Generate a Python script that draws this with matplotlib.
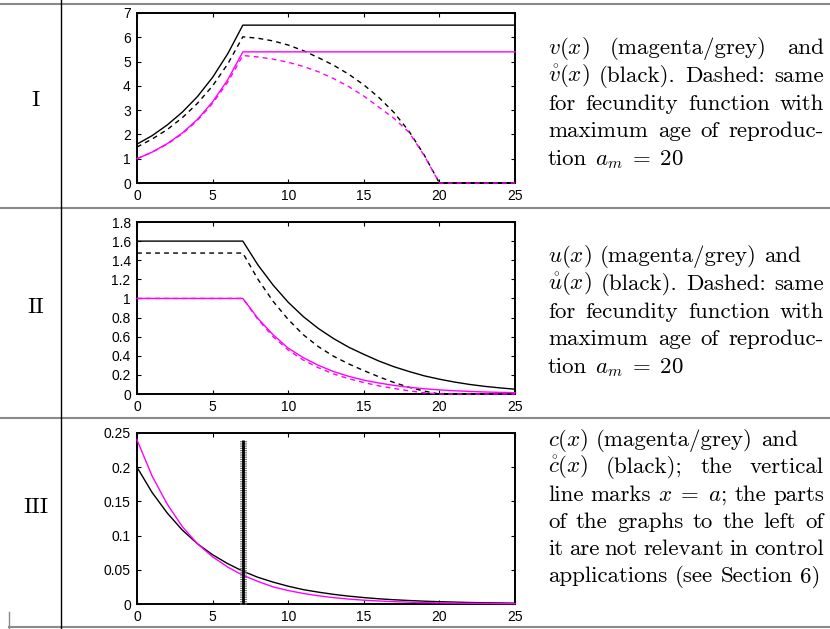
import matplotlib
matplotlib.use('Agg')
import matplotlib.pyplot as plt
from matplotlib.lines import Line2D
from matplotlib import mathtext

plt.rcParams['mathtext.fontset'] = 'cm'
plt.rcParams['axes.unicode_minus'] = False

# ---------------- data ----------------
x_ticks = [0, 5, 10, 15, 20, 25]
x_tick_labels = ['0', '5', '10', '15', '20', '25']

# Panel I
I_yticks = [0, 1, 2, 3, 4, 5, 6, 7]
I_ylabels = ['0', '1', '2', '3', '4', '5', '6', '7']
I_solid_x = [0, 1, 2, 3, 4, 5, 6, 7, 25]
I_black_solid = [1.6, 1.95, 2.39, 2.92, 3.56, 4.35, 5.32, 6.5, 6.5]
I_mag_solid = [1.0, 1.27, 1.62, 2.06, 2.62, 3.34, 4.25, 5.4, 5.4]
I_dash_x = [0, 1, 2, 3, 4, 5, 6, 7, 8, 9, 10, 11, 12, 13, 14, 15, 16, 17, 18, 19, 20, 25]
I_black_dash = [1.48, 1.81, 2.2, 2.69, 3.28, 4.0, 4.9, 6.02, 5.96, 5.85, 5.68, 5.45,
                5.16, 4.85, 4.48, 4.04, 3.52, 2.9, 2.12, 1.15, 0.0, 0.0]
I_mag_dash = [1.0, 1.27, 1.6, 2.03, 2.58, 3.28, 4.15, 5.25, 5.19, 5.1, 4.97, 4.8,
              4.58, 4.3, 3.97, 3.58, 3.12, 2.66, 2.08, 1.12, 0.0, 0.0]

# Panel II
II_yticks = [0, 0.2, 0.4, 0.6, 0.8, 1.0, 1.2, 1.4, 1.6, 1.8]
II_ylabels = ['0', '0.2', '0.4', '0.6', '0.8', '1', '1.2', '1.4', '1.6', '1.8']
II_solid_x = [0, 7, 8, 9, 10, 11, 12, 13, 14, 15, 16, 17, 18, 19, 20, 21, 22, 23, 24, 25]
II_black_solid = [1.6, 1.6, 1.35, 1.14, 0.96, 0.81, 0.685, 0.58, 0.49, 0.415, 0.345,
                  0.285, 0.235, 0.19, 0.155, 0.125, 0.1, 0.08, 0.064, 0.05]
II_mag_solid = [1.0, 1.0, 0.79, 0.62, 0.48, 0.38, 0.3, 0.235, 0.185, 0.145, 0.115,
                0.09, 0.07, 0.055, 0.043, 0.034, 0.027, 0.021, 0.017, 0.013]
II_dash_x = [0, 7, 8, 9, 10, 11, 12, 13, 14, 15, 16, 17, 18, 19, 20, 25]
II_black_dash = [1.475, 1.475, 1.2, 0.97, 0.78, 0.62, 0.495, 0.395, 0.315, 0.245,
                 0.18, 0.12, 0.07, 0.03, 0.0, 0.0]
II_mag_dash = [1.0, 1.0, 0.78, 0.6, 0.46, 0.355, 0.275, 0.21, 0.16, 0.12, 0.085,
               0.058, 0.033, 0.013, 0.0, 0.0]

# Panel III
III_yticks = [0, 0.05, 0.1, 0.15, 0.2, 0.25]
III_ylabels = ['0', '0.05', '0.1', '0.15', '0.2', '0.25']
III_x = list(range(0, 26))
III_black = [0.2, 0.163, 0.133, 0.108, 0.088, 0.072, 0.059, 0.048, 0.039, 0.032,
             0.026, 0.021, 0.0173, 0.0141, 0.0115, 0.0094, 0.0076, 0.0062, 0.0051,
             0.0041, 0.0034, 0.0028, 0.0022, 0.0018, 0.0015, 0.0012]
III_mag = [0.24, 0.187, 0.146, 0.113, 0.088, 0.069, 0.054, 0.042, 0.033, 0.025,
           0.0197, 0.0154, 0.012, 0.0093, 0.0072, 0.0056, 0.0044, 0.0034, 0.0027,
           0.0021, 0.0016, 0.0013, 0.001, 0.0008, 0.0006, 0.0005]
III_vline_x = 7.0
III_vline_y = [0.0, 0.24]

# text
def ring(ch):
    s = r'$\mathring{%s}(x)$' % ch
    try:
        mathtext.MathTextParser('path').parse(s)
        return s
    except Exception:
        return r'$\dot{%s}(x)$' % ch

row_labels = ['I', 'II', 'III']
text_I = [(['$v(x)$', '(magenta/grey)', 'and'], True),
          ([ring('v'), '(black).', 'Dashed:', 'same'], True),
          (['for', 'fecundity', 'function', 'with'], True),
          (['maximum', 'age', 'of', 'reproduc-'], True),
          (['tion', r'$a_m\;=\;20$'], False)]
text_II = [(['$u(x)$', '(magenta/grey)', 'and'], False),
           ([ring('u'), '(black).', 'Dashed:', 'same'], True),
           (['for', 'fecundity', 'function', 'with'], True),
           (['maximum', 'age', 'of', 'reproduc-'], True),
           (['tion', r'$a_m\;=\;20$'], False)]
text_III = [(['$c(x)$', '(magenta/grey)', 'and'], False),
            ([ring('c'), '(black);', 'the', 'vertical'], True),
            (['line', 'marks', r'$x\;=\;a$;', 'the', 'parts'], True),
            (['of', 'the', 'graphs', 'to', 'the', 'left', 'of'], True),
            (['it', 'are', 'not', 'relevant', 'in', 'control'], True),
            (['applications', '(see', 'Section', '6)'], False)]

# ---------------- figure ----------------
W, H = 830, 629
fig = plt.figure(figsize=(W / 100, H / 100), dpi=100)

def fx(x):
    return x / W

def fy(y):
    return 1 - y / H

GREY = '#8a8a8a'
# table lines
for yy in [4, 207.5, 418]:
    fig.add_artist(Line2D([0, 1], [fy(yy), fy(yy)], color=GREY, lw=1.5))
fig.add_artist(Line2D([fx(9), 1], [fy(627), fy(627)], color=GREY, lw=1.5))
fig.add_artist(Line2D([fx(9), fx(9)], [fy(612), fy(629)], color=GREY, lw=1.0))
fig.add_artist(Line2D([fx(61), fx(61)], [0, 1], color='black', lw=1.0))

TICKFONT = 'Liberation Sans'

def make_ax(top, bottom, yticks, ylabels):
    ax = fig.add_axes([fx(137), fy(bottom), (515 - 137) / W, (bottom - top) / H])
    ax.set_xlim(0, 25)
    ax.set_ylim(yticks[0], yticks[-1])
    ax.set_xticks(x_ticks)
    ax.set_xticklabels(x_tick_labels, fontfamily=TICKFONT)
    ax.set_yticks(yticks)
    ax.set_yticklabels(ylabels, fontfamily=TICKFONT)
    ax.tick_params(direction='in', length=2.8, width=0.8, top=True, right=True,
                   labelsize=10)
    ax.tick_params(axis='y', pad=4.5)
    ax.tick_params(axis='x', pad=4.5)
    for s in ax.spines.values():
        s.set_linewidth(1.4)
    return ax

MAG = '#ff00ff'
DASH = (0, (3.5, 3))
LW = 1.0

axI = make_ax(13, 183, I_yticks, I_ylabels)
axI.plot(I_solid_x, I_black_solid, color='black', lw=LW, clip_on=False, zorder=3)
axI.plot(I_dash_x, I_black_dash, color='black', lw=LW, ls=DASH, clip_on=False, zorder=3)
axI.plot(I_solid_x, I_mag_solid, color=MAG, lw=LW, clip_on=False, zorder=3)
axI.plot(I_dash_x, I_mag_dash, color=MAG, lw=LW, ls=DASH, clip_on=False, zorder=3)

axII = make_ax(222, 394, II_yticks, II_ylabels)
axII.plot(II_solid_x, II_black_solid, color='black', lw=LW, clip_on=False, zorder=3)
axII.plot(II_dash_x, II_black_dash, color='black', lw=LW, ls=DASH, clip_on=False, zorder=3)
axII.plot(II_solid_x, II_mag_solid, color=MAG, lw=LW, clip_on=False, zorder=3)
axII.plot(II_dash_x, II_mag_dash, color=MAG, lw=LW, ls=DASH, clip_on=False, zorder=3)

axIII = make_ax(433, 604, III_yticks, III_ylabels)
axIII.plot(III_x, III_black, color='black', lw=LW, clip_on=False, zorder=3)
axIII.plot(III_x, III_mag, color=MAG, lw=LW, clip_on=False, zorder=3)
axIII.plot([III_vline_x, III_vline_x], III_vline_y, color='#707070', lw=5.0,
           ls=(0, (0.16, 0.16)), solid_capstyle='butt', dash_capstyle='butt',
           zorder=4, clip_on=False)
axIII.plot([III_vline_x, III_vline_x], III_vline_y, color='black', lw=2.0,
           solid_capstyle='butt', zorder=5, clip_on=False)

# ---------------- text ----------------
FS = 16.5
TFONT = 'cmr10'
renderer = fig.canvas.get_renderer()

for lab, yb in zip(row_labels, [106, 313, 513]):
    fig.text(fx(36), fy(yb), lab, fontsize=FS, family=TFONT, ha='center', va='baseline')

def paragraph(lines, x0, x1, y0, dy):
    for i, (words, just) in enumerate(lines):
        y = y0 + i * dy
        arts = [fig.text(0, fy(y), w, fontsize=FS, family=TFONT, va='baseline', ha='left')
                for w in words]
        widths = [a.get_window_extent(renderer).width for a in arts]
        if just and len(words) > 1:
            gap = (x1 - x0 - sum(widths)) / (len(words) - 1)
        else:
            gap = FS * 100 / 72 * 0.333
        x = x0
        for a, wd in zip(arts, widths):
            a.set_x(fx(x))
            x += wd + gap

paragraph(text_I, 548, 824, 54, 27.8)
paragraph(text_II, 548, 824, 262, 27.8)
paragraph(text_III, 548, 824, 446, 27.3)

fig.savefig('out.png', dpi=100)
